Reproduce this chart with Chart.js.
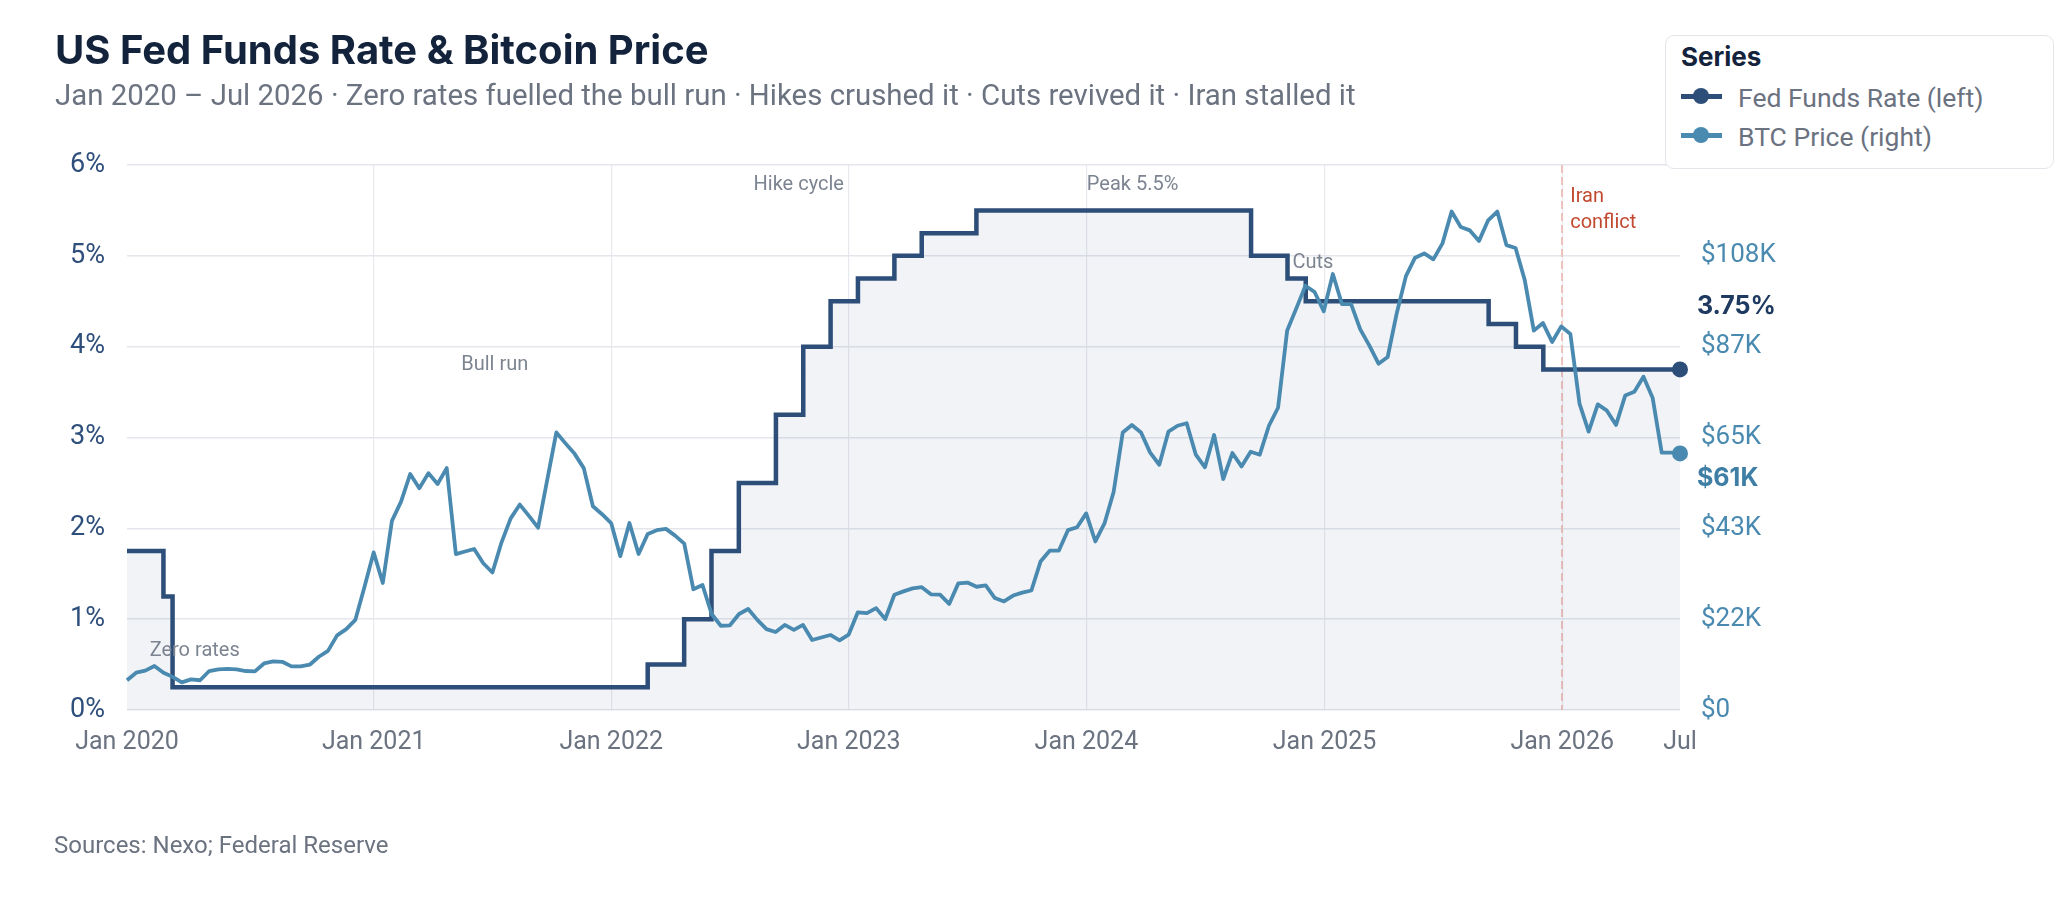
<!DOCTYPE html>
<html>
<head>
<meta charset="utf-8">
<script src="https://cdn.jsdelivr.net/npm/chart.js@4.4.1/dist/chart.umd.min.js"></script>
<style>
html,body{margin:0;padding:0;background:#fff;}
#wrap{position:relative;width:2066px;height:916px;overflow:hidden;background:#fff;}
#c{position:absolute;left:0;top:0;}
.t{position:absolute;white-space:nowrap;line-height:1;}
#title{left:55px;top:30px;font-family:Inter;font-weight:700;font-size:40px;color:#14233c;letter-spacing:0px;}
#sub{left:55px;top:81px;font-family:Roboto;font-size:29.4px;color:#6b7280;}
#src{left:54px;top:833px;font-family:Roboto;font-size:24px;color:#6b7280;}
#legend{position:absolute;left:1665px;top:35px;width:389px;height:134px;box-sizing:border-box;border:1.5px solid #e3e5ea;border-radius:9px;background:#fff;}
#legend .lt{position:absolute;left:15px;top:8px;font-family:Inter;font-weight:700;font-size:26px;color:#14233c;line-height:1;white-space:nowrap;}
#legend .li{position:absolute;left:72px;font-family:Roboto;font-size:26.5px;color:#6b7280;line-height:1;white-space:nowrap;}
#legend .ln{position:absolute;left:15px;width:41px;height:5px;}
#legend .dot{position:absolute;left:27px;width:16px;height:16px;border-radius:50%;}
</style>
</head>
<body>
<div id="wrap">
  <canvas id="c" width="2066" height="916"></canvas>
  <div class="t" id="title">US Fed Funds Rate &amp; Bitcoin Price</div>
  <div class="t" id="sub">Jan 2020 – Jul 2026 · Zero rates fuelled the bull run · Hikes crushed it · Cuts revived it · Iran stalled it</div>
  <div class="t" id="src">Sources: Nexo; Federal Reserve</div>
  <div id="legend">
    <div class="lt">Series</div>
    <div class="ln" style="top:58px;background:#2c4e79"></div>
    <div class="dot" style="top:52px;background:#2c4e79"></div>
    <div class="li" style="top:49px">Fed Funds Rate (left)</div>
    <div class="ln" style="top:97px;background:#4a8ab0"></div>
    <div class="dot" style="top:91px;background:#4a8ab0"></div>
    <div class="li" style="top:88px">BTC Price (right)</div>
  </div>
</div>
<script>
// ---------- data ----------
const xTickDates  = ['2019-12-19','2021-01-01','2022-01-01','2023-01-01','2024-01-01','2025-01-01','2026-01-01','2026-07-01'];
const xTickLabels = ['Jan 2020','Jan 2021','Jan 2022','Jan 2023','Jan 2024','Jan 2025','Jan 2026','Jul'];

const leftTickValues = [0,1,2,3,4,5,6];          // percent
const rightAxisMaxK = 130;                       // BTC axis top ($K)

// Fed funds target (upper bound), change dates as plotted
const fedDates = ['2019-12-19','2020-02-13','2020-02-27','2022-02-26','2022-04-23','2022-06-04','2022-07-16',
  '2022-09-11','2022-10-23','2022-12-04','2023-01-15','2023-03-12','2023-04-23','2023-07-16',
  '2024-09-10','2024-11-05','2024-12-03','2025-09-10','2025-10-22','2025-12-03','2026-07-01'];
const fedRates = [1.75,1.25,0.25,0.50,1.00,1.75,2.50,3.25,4.00,4.50,4.75,5.00,5.25,5.50,5.00,4.75,4.50,4.25,4.00,3.75,3.75];

// BTC price ($K), fortnightly samples from first to last date
const btcFirstDate = '2019-12-19';
const btcLastDate  = '2026-07-01';
const btcPriceK = [
  7.1,8.9,9.4,10.5,8.9,7.9,6.6,7.3,7.1,9.3,9.7,9.8,9.7,9.3,9.2,11.1,11.6,11.5,10.4,10.4,
  10.8,12.7,14.1,17.8,19.3,21.5,29.4,37.6,30.3,45.1,49.7,56.3,52.9,56.5,53.9,57.7,37.2,37.8,38.4,35.0,
  32.8,40.0,45.7,49.0,46.3,43.5,54.9,66.2,63.6,61.1,57.7,48.6,46.7,44.6,36.7,44.6,37.2,42.0,42.9,43.2,
  41.6,39.7,28.8,29.8,22.9,20.1,20.2,22.9,24.1,21.5,19.3,18.6,20.3,19.1,20.3,16.7,17.3,17.9,16.6,18.0,
  23.3,23.1,24.3,21.7,27.5,28.3,29.0,29.3,27.6,27.5,25.3,30.2,30.4,29.4,29.7,26.7,25.9,27.3,28.0,28.5,
  35.4,38.0,38.0,42.9,43.6,46.9,40.2,44.5,52.0,66.2,68.0,66.2,61.4,58.5,66.4,67.8,68.4,60.9,57.9,65.6,
  55.1,61.3,58.1,61.6,60.9,67.8,72.1,90.5,95.8,101.2,99.7,95.1,104.0,96.8,96.8,90.8,86.9,82.6,84.2,94.7,
  103.5,107.9,108.9,107.5,111.3,118.9,115.2,114.4,111.9,116.8,118.9,110.9,110.2,102.6,90.5,92.3,87.8,91.5,89.7,73.1,
  66.4,72.9,71.4,68.0,75.0,75.9,79.5,74.5,61.4,61.4,61.2
];

const annotations = [
  {lines:['Zero rates'], date:'2020-04-01', pct:0.65, color:'#7d8491', align:'center', dx:0},
  {lines:['Bull run'],   date:'2021-07-06', pct:3.80, color:'#7d8491', align:'center', dx:0},
  {lines:['Hike cycle'], date:'2022-10-16', pct:5.78, color:'#7d8491', align:'center', dx:0},
  {lines:['Peak 5.5%'],  date:'2024-03-12', pct:5.78, color:'#7d8491', align:'center', dx:0},
  {lines:['Cuts'],       date:'2024-12-14', pct:4.92, color:'#7d8491', align:'center', dx:0},
  {lines:['Iran','conflict'], date:'2026-01-01', pct:5.65, color:'#c24a30', align:'left', dx:8}
];
const iranDate = '2026-01-01';

// ---------- helpers ----------
const DAY0 = Date.UTC(2020,0,1);
function dayOf(s){ const p = s.split('-').map(Number); return (Date.UTC(p[0],p[1]-1,p[2]) - DAY0)/86400000; }

const FED_C = '#2c4e79';
const BTC_C = '#4a8ab0';

const btcX0 = dayOf(btcFirstDate), btcX1 = dayOf(btcLastDate);
const btcPoints = btcPriceK.map((v,i)=>({x: btcX0 + i*(btcX1-btcX0)/(btcPriceK.length-1), y: v}));
const fedPoints = fedDates.map((d,i)=>({x: dayOf(d), y: fedRates[i]}));

const overlay = {
  id:'overlay',
  beforeDatasetsDraw(chart){
    const {ctx, chartArea, scales} = chart;
    const px = Math.round(scales.x.getPixelForValue(dayOf(iranDate)));
    ctx.save();
    ctx.strokeStyle = '#efc3bd';
    ctx.lineWidth = 2;
    ctx.setLineDash([8,4]);
    ctx.beginPath();
    ctx.moveTo(px, chartArea.top);
    ctx.lineTo(px, chartArea.bottom);
    ctx.stroke();
    ctx.restore();
  },
  afterDatasetsDraw(chart){
    const {ctx, chartArea, scales} = chart;
    ctx.save();
    ctx.textBaseline = 'middle';
    ctx.font = '20px Roboto';
    annotations.forEach(a=>{
      const x = scales.x.getPixelForValue(dayOf(a.date)) + a.dx;
      const y = scales.yL.getPixelForValue(a.pct);
      ctx.fillStyle = a.color;
      ctx.textAlign = a.align;
      a.lines.forEach((ln,i)=> ctx.fillText(ln, x, y + i*26));
    });
    // end labels
    const lastFed = fedRates[fedRates.length-1];
    const lastBtc = btcPriceK[btcPriceK.length-1];
    const xl = chartArea.right + 17;
    ctx.textAlign = 'left';
    ctx.font = 'bold 25px Inter';
    ctx.fillStyle = '#1f3a60';
    ctx.fillText(lastFed.toFixed(2) + '%', xl, scales.yL.getPixelForValue(lastFed) - 63);
    ctx.fillStyle = '#3f7fa6';
    ctx.fillText('$' + Math.round(lastBtc) + 'K', xl, scales.yR.getPixelForValue(lastBtc) + 25);
    ctx.restore();
  }
};

new Chart(document.getElementById('c'), {
  type:'line',
  data:{ datasets:[
    { label:'BTC Price (right)', data:btcPoints, yAxisID:'yR', borderColor:BTC_C, borderWidth:3.8,
      pointRadius: c => c.dataIndex === btcPoints.length-1 ? 8 : 0,
      pointBackgroundColor:BTC_C, pointBorderColor:BTC_C, pointBorderWidth:0, pointHoverRadius:0,
      tension:0, fill:false, order:0, clip:false, borderJoinStyle:'round' },
    { label:'Fed Funds Rate (left)', data:fedPoints, yAxisID:'yL', stepped:true, borderColor:FED_C, borderWidth:4.5,
      fill:'origin', backgroundColor:'rgba(44,78,121,0.065)',
      pointRadius: c => c.dataIndex === fedPoints.length-1 ? 8 : 0,
      pointBackgroundColor:FED_C, pointBorderColor:FED_C, pointBorderWidth:0, pointHoverRadius:0,
      order:1, clip:false, borderJoinStyle:'miter' }
  ]},
  options:{
    responsive:false, animation:false, devicePixelRatio:1, events:[],
    layout:{padding:{top:165, bottom:146, left:0, right:0}},
    plugins:{legend:{display:false}, tooltip:{enabled:false}, title:{display:false}},
    scales:{
      x:{ type:'linear', min:dayOf(xTickDates[0]), max:dayOf(xTickDates[xTickDates.length-1]),
          afterBuildTicks: s => { s.ticks = xTickDates.map(d=>({value:dayOf(d)})); },
          ticks:{ callback:(v,i)=>xTickLabels[i], autoSkip:false, maxRotation:0, padding:18,
                  color:'#6b7280', font:{family:'Roboto', size:25} },
          grid:{ color: c => (c.index===0 || c.index===xTickDates.length-1) ? 'rgba(0,0,0,0)' : '#e8e9ee',
                 lineWidth:1.2, drawTicks:false },
          border:{display:false},
          afterFit: s => { s.height = 60; } },
      yL:{ position:'left', min:0, max:6,
           afterBuildTicks: s => { s.ticks = leftTickValues.map(v=>({value:v})); },
           ticks:{ callback:v=>v+'%', padding:22, color:'#2e4f7b', font:{family:'Roboto', size:27} },
           grid:{ color:'#e4e6eb', lineWidth:1.6, drawTicks:false },
           border:{display:false},
           afterFit: s => { s.width = 127; } },
      yR:{ position:'right', min:0, max:rightAxisMaxK,
           afterBuildTicks: s => { s.ticks = leftTickValues.map(v=>({value: v*rightAxisMaxK/6})); },
           ticks:{ callback:v => v >= rightAxisMaxK-0.5 ? '' : (v===0 ? '$0' : '$'+Math.round(v)+'K'),
                   padding:21, color:BTC_C, font:{family:'Roboto', size:26} },
           grid:{display:false, drawTicks:false},
           border:{display:false},
           afterFit: s => { s.width = 386; } }
    }
  },
  plugins:[overlay]
});
</script>
</body>
</html>
